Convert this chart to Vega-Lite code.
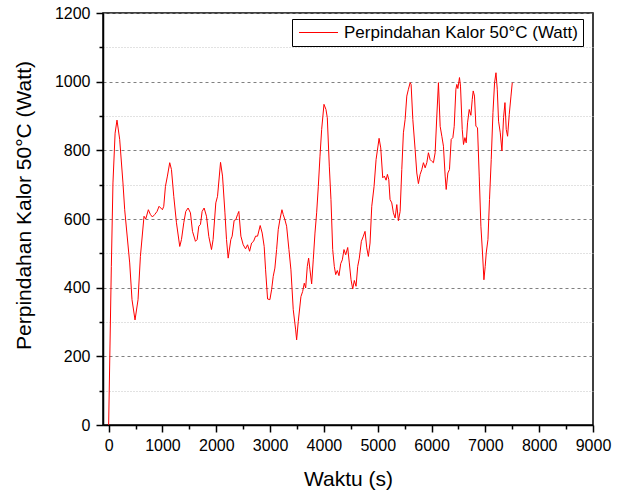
{
  "$schema": "https://vega.github.io/schema/vega-lite/v6.json",
  "width": 490,
  "height": 412,
  "autosize": {"type": "none"},
  "padding": {"left": 103, "top": 13, "right": 29, "bottom": 66},
  "background": "white",
  "config": {
    "font": "Liberation Sans",
    "view": {"stroke": "black", "strokeWidth": 1.5},
    "axis": {
      "domainColor": "black",
      "domainWidth": 1.5,
      "tickColor": "black",
      "tickWidth": 1.5,
      "labelColor": "black",
      "titleColor": "black",
      "labelFont": "Liberation Sans",
      "titleFont": "Liberation Sans",
      "labelFontSize": 16,
      "titleFontSize": 21,
      "titleFontWeight": "normal"
    }
  },
  "data": {
    "values": [
      {"t": 0, "q": 0}, {"t": 50, "q": 462}, {"t": 80, "q": 705}, {"t": 120, "q": 850},
      {"t": 155, "q": 888}, {"t": 205, "q": 832}, {"t": 266, "q": 705}, {"t": 298, "q": 627},
      {"t": 391, "q": 472}, {"t": 434, "q": 365}, {"t": 490, "q": 306}, {"t": 546, "q": 365},
      {"t": 590, "q": 491}, {"t": 657, "q": 608}, {"t": 689, "q": 600}, {"t": 738, "q": 627},
      {"t": 776, "q": 613}, {"t": 813, "q": 606}, {"t": 856, "q": 613}, {"t": 899, "q": 622},
      {"t": 937, "q": 637}, {"t": 968, "q": 632}, {"t": 999, "q": 627}, {"t": 1024, "q": 637},
      {"t": 1055, "q": 695}, {"t": 1092, "q": 725}, {"t": 1135, "q": 764}, {"t": 1167, "q": 744},
      {"t": 1210, "q": 666}, {"t": 1260, "q": 589}, {"t": 1321, "q": 520}, {"t": 1353, "q": 540},
      {"t": 1396, "q": 589}, {"t": 1433, "q": 622}, {"t": 1476, "q": 632}, {"t": 1520, "q": 618},
      {"t": 1558, "q": 564}, {"t": 1613, "q": 535}, {"t": 1644, "q": 540}, {"t": 1675, "q": 579},
      {"t": 1706, "q": 584}, {"t": 1737, "q": 622}, {"t": 1774, "q": 632}, {"t": 1818, "q": 608},
      {"t": 1861, "q": 549}, {"t": 1911, "q": 511}, {"t": 1941, "q": 540}, {"t": 1991, "q": 647},
      {"t": 2023, "q": 666}, {"t": 2079, "q": 765}, {"t": 2116, "q": 725}, {"t": 2160, "q": 620},
      {"t": 2190, "q": 540}, {"t": 2221, "q": 486}, {"t": 2270, "q": 540}, {"t": 2295, "q": 550},
      {"t": 2332, "q": 596}, {"t": 2363, "q": 598}, {"t": 2395, "q": 613}, {"t": 2419, "q": 622},
      {"t": 2457, "q": 550}, {"t": 2500, "q": 525}, {"t": 2544, "q": 513}, {"t": 2581, "q": 525},
      {"t": 2619, "q": 506}, {"t": 2656, "q": 530}, {"t": 2693, "q": 535}, {"t": 2730, "q": 550},
      {"t": 2767, "q": 550}, {"t": 2816, "q": 581}, {"t": 2853, "q": 559}, {"t": 2890, "q": 520},
      {"t": 2916, "q": 452}, {"t": 2953, "q": 367}, {"t": 2996, "q": 365}, {"t": 3028, "q": 394},
      {"t": 3058, "q": 433}, {"t": 3089, "q": 457}, {"t": 3121, "q": 511}, {"t": 3151, "q": 569},
      {"t": 3182, "q": 598}, {"t": 3220, "q": 627}, {"t": 3244, "q": 613}, {"t": 3275, "q": 598},
      {"t": 3307, "q": 579}, {"t": 3350, "q": 511}, {"t": 3387, "q": 452}, {"t": 3430, "q": 336},
      {"t": 3475, "q": 277}, {"t": 3493, "q": 248}, {"t": 3523, "q": 301}, {"t": 3573, "q": 374},
      {"t": 3605, "q": 389}, {"t": 3635, "q": 413}, {"t": 3661, "q": 399}, {"t": 3691, "q": 462},
      {"t": 3716, "q": 486}, {"t": 3741, "q": 452}, {"t": 3772, "q": 411}, {"t": 3802, "q": 481},
      {"t": 3834, "q": 559}, {"t": 3865, "q": 618}, {"t": 3896, "q": 695}, {"t": 3927, "q": 783},
      {"t": 3958, "q": 861}, {"t": 4001, "q": 934}, {"t": 4038, "q": 919}, {"t": 4063, "q": 895},
      {"t": 4100, "q": 754}, {"t": 4131, "q": 657}, {"t": 4163, "q": 511}, {"t": 4193, "q": 462},
      {"t": 4219, "q": 438}, {"t": 4249, "q": 450}, {"t": 4280, "q": 435}, {"t": 4312, "q": 470},
      {"t": 4342, "q": 481}, {"t": 4373, "q": 511}, {"t": 4405, "q": 496}, {"t": 4442, "q": 517},
      {"t": 4472, "q": 472}, {"t": 4504, "q": 423}, {"t": 4535, "q": 396}, {"t": 4565, "q": 421},
      {"t": 4597, "q": 404}, {"t": 4628, "q": 462}, {"t": 4658, "q": 486}, {"t": 4696, "q": 535},
      {"t": 4733, "q": 550}, {"t": 4764, "q": 564}, {"t": 4796, "q": 516}, {"t": 4826, "q": 491},
      {"t": 4857, "q": 530}, {"t": 4889, "q": 637}, {"t": 4932, "q": 695}, {"t": 4969, "q": 773},
      {"t": 5025, "q": 835}, {"t": 5056, "q": 807}, {"t": 5093, "q": 720}, {"t": 5123, "q": 725},
      {"t": 5155, "q": 713}, {"t": 5180, "q": 730}, {"t": 5205, "q": 715}, {"t": 5229, "q": 657},
      {"t": 5261, "q": 647}, {"t": 5291, "q": 618}, {"t": 5323, "q": 603}, {"t": 5354, "q": 642},
      {"t": 5384, "q": 595}, {"t": 5416, "q": 622}, {"t": 5447, "q": 744}, {"t": 5477, "q": 851},
      {"t": 5509, "q": 890}, {"t": 5540, "q": 958}, {"t": 5570, "q": 978}, {"t": 5602, "q": 997},
      {"t": 5620, "q": 992}, {"t": 5652, "q": 890}, {"t": 5695, "q": 802}, {"t": 5726, "q": 734},
      {"t": 5756, "q": 703}, {"t": 5788, "q": 730}, {"t": 5819, "q": 744}, {"t": 5849, "q": 764},
      {"t": 5881, "q": 749}, {"t": 5912, "q": 764}, {"t": 5942, "q": 793}, {"t": 5974, "q": 773},
      {"t": 6005, "q": 768}, {"t": 6035, "q": 764}, {"t": 6067, "q": 793}, {"t": 6098, "q": 900},
      {"t": 6128, "q": 997}, {"t": 6160, "q": 870}, {"t": 6191, "q": 841}, {"t": 6221, "q": 812},
      {"t": 6253, "q": 725}, {"t": 6272, "q": 686}, {"t": 6303, "q": 734}, {"t": 6333, "q": 744},
      {"t": 6365, "q": 832}, {"t": 6396, "q": 837}, {"t": 6421, "q": 870}, {"t": 6452, "q": 978},
      {"t": 6470, "q": 992}, {"t": 6489, "q": 980}, {"t": 6519, "q": 1012}, {"t": 6538, "q": 987},
      {"t": 6570, "q": 861}, {"t": 6594, "q": 817}, {"t": 6620, "q": 837}, {"t": 6644, "q": 822},
      {"t": 6669, "q": 880}, {"t": 6700, "q": 919}, {"t": 6731, "q": 902}, {"t": 6756, "q": 948},
      {"t": 6774, "q": 973}, {"t": 6798, "q": 958}, {"t": 6824, "q": 870}, {"t": 6854, "q": 866},
      {"t": 6886, "q": 725}, {"t": 6917, "q": 579}, {"t": 6947, "q": 501}, {"t": 6973, "q": 423},
      {"t": 6997, "q": 462}, {"t": 7016, "q": 501}, {"t": 7048, "q": 540}, {"t": 7077, "q": 657},
      {"t": 7109, "q": 773}, {"t": 7141, "q": 910}, {"t": 7171, "q": 997}, {"t": 7197, "q": 1026},
      {"t": 7221, "q": 978}, {"t": 7245, "q": 885}, {"t": 7277, "q": 851}, {"t": 7308, "q": 798},
      {"t": 7338, "q": 895}, {"t": 7364, "q": 939}, {"t": 7388, "q": 861}, {"t": 7413, "q": 841},
      {"t": 7444, "q": 905}, {"t": 7476, "q": 958}, {"t": 7500, "q": 997}
    ]
  },
  "mark": {"type": "line", "strokeWidth": 1, "clip": true},
  "encoding": {
    "x": {
      "field": "t",
      "type": "quantitative",
      "scale": {"domain": [-105, 9000], "nice": false, "zero": false},
      "axis": {
        "title": "Waktu (s)",
        "values": [0, 500, 1000, 1500, 2000, 2500, 3000, 3500, 4000, 4500, 5000, 5500, 6000, 6500, 7000, 7500, 8000, 8500, 9000],
        "format": "d",
        "labelExpr": "datum.value % 1000 === 0 ? datum.label : ''",
        "grid": false,
        "tickSize": {"condition": {"test": "datum.value % 1000 === 0", "value": 7}, "value": 4},
        "labelPadding": 5,
        "labelFlush": false,
        "labelOverlap": false,
        "titleX": 245,
        "titleY": 60,
        "titleBaseline": "alphabetic"
      }
    },
    "y": {
      "field": "q",
      "type": "quantitative",
      "scale": {"domain": [0, 1200], "nice": false},
      "axis": {
        "title": "Perpindahan Kalor 50°C (Watt)",
        "values": [0, 100, 200, 300, 400, 500, 600, 700, 800, 900, 1000, 1100, 1200],
        "format": "d",
        "labelExpr": "datum.value % 200 === 0 ? datum.label : ''",
        "grid": true,
        "gridWidth": 1,
        "gridColor": {"condition": {"test": "datum.value % 200 === 0", "value": "#808080"}, "value": "#c4c4c4"},
        "gridDash": {"condition": {"test": "datum.value % 200 === 0", "value": [3, 3]}, "value": [1, 2]},
        "tickSize": {"condition": {"test": "datum.value % 200 === 0", "value": 7}, "value": 4},
        "labelPadding": 6,
        "labelFlush": false,
        "labelOverlap": false,
        "titleX": -73,
        "titleY": 192,
        "titleBaseline": "alphabetic"
      }
    },
    "color": {
      "datum": "Perpindahan Kalor 50°C (Watt)",
      "scale": {"range": ["#ff0000"]},
      "legend": {
        "title": null,
        "orient": "none",
        "legendX": 189,
        "legendY": 6,
        "strokeColor": "black",
        "padding": 5,
        "symbolType": "M-1,0H5",
        "symbolSize": 169,
        "symbolStrokeWidth": 1,
        "labelFont": "Liberation Sans",
        "labelFontSize": 17,
        "labelLimit": 0,
        "labelColor": "black",
        "labelOffset": 30
      }
    }
  }
}
